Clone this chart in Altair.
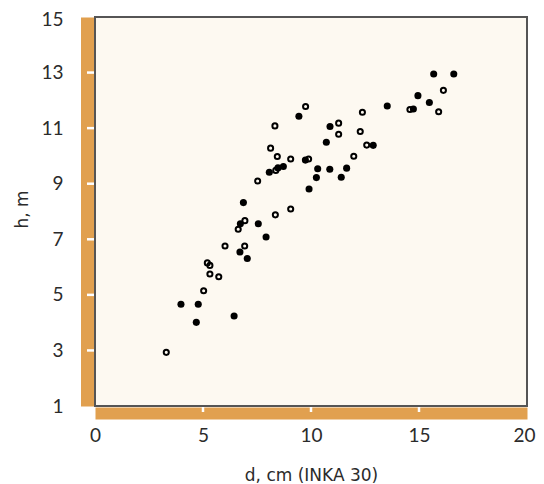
import altair as alt
import pandas as pd

# Filled circles
filled_d = [3.98, 4.78, 4.69, 6.44, 6.71, 7.05, 7.92, 6.73, 7.56, 6.87, 9.91, 10.25, 11.40,
            8.07, 8.47, 8.72, 10.31, 10.87, 11.65, 9.74, 10.71, 12.88, 10.88, 9.44, 13.53,
            14.74, 15.48, 14.95, 15.68, 16.61]
filled_h = [4.66, 4.66, 4.01, 4.24, 6.54, 6.31, 7.08, 7.56, 7.56, 8.32, 8.81, 9.22, 9.23,
            9.41, 9.57, 9.62, 9.54, 9.52, 9.56, 9.85, 10.49, 10.38, 11.06, 11.43, 11.80,
            11.69, 11.92, 12.17, 12.95, 12.95]
# Open circles
open_d = [3.30, 5.03, 5.32, 5.73, 5.20, 5.32, 6.02, 6.93, 6.63, 6.94, 8.35, 9.06, 7.53,
          8.37, 8.44, 9.06, 9.89, 11.98, 8.13, 12.58, 11.28, 12.28, 8.33, 11.28, 12.38,
          9.75, 14.58, 15.91, 16.13]
open_h = [2.93, 5.15, 5.75, 5.65, 6.15, 6.06, 6.76, 6.76, 7.36, 7.67, 7.88, 8.09, 9.10,
          9.48, 9.98, 9.89, 9.89, 9.99, 10.28, 10.39, 10.78, 10.88, 11.08, 11.18, 11.57,
          11.78, 11.67, 11.59, 12.36]

x_ticks = [0, 5, 10, 15, 20]
y_ticks = [1, 3, 5, 7, 9, 11, 13, 15]
x_inner = [5, 10, 15]
y_inner = [3, 5, 7, 9, 11, 13]

ORANGE = "#E1A04F"
CREAM = "#FDF9F1"
TEXT = "#2b2b2b"
LFONT = "Lato"
TFONT = "DejaVu Sans"
W, H = 432, 389

df_f = pd.DataFrame({"d": filled_d, "h": filled_h})
df_o = pd.DataFrame({"d": open_d, "h": open_h})
df_xt = pd.DataFrame({"d": x_inner})
df_yt = pd.DataFrame({"h": y_inner})

xscale = alt.Scale(domain=[0, 20], nice=False, zero=False)
yscale = alt.Scale(domain=[1, 15], nice=False, zero=False)

xaxis = alt.Axis(values=x_ticks, offset=7, domainColor=ORANGE, domainWidth=12,
                 ticks=False, tickSize=0, grid=False, labelPadding=13, labelFlush=False,
                 labelOffset={"condition": {"test": "datum.value == 20", "value": -3}, "value": 0},
                 labelFont=LFONT, labelFontSize=19, labelColor=TEXT,
                 title="d, cm (INKA 30)", titleFont=TFONT, titleFontSize=17,
                 titleFontWeight="normal", titleColor=TEXT, titleY=67,
                 titleBaseline="alphabetic")
yaxis = alt.Axis(values=y_ticks, offset=8, domainColor=ORANGE, domainWidth=13,
                 ticks=False, tickSize=0, grid=False, labelPadding=24,
                 labelOffset={"condition": {"test": "datum.value == 15", "value": 2}, "value": 0},
                 labelFont=LFONT, labelFontSize=19, labelColor=TEXT,
                 title="h, m", titleFont=TFONT, titleFontSize=17,
                 titleFontWeight="normal", titleColor=TEXT, titleX=-65, titleY=192,
                 titleAngle=-90, titleBaseline="middle", titleAlign="center")

opn = alt.Chart(df_o).mark_point(shape="circle", filled=False, size=26, strokeWidth=2,
                                 color="black", opacity=1).encode(
    x=alt.X("d:Q", scale=xscale, axis=xaxis),
    y=alt.Y("h:Q", scale=yscale, axis=yaxis),
)
fil = alt.Chart(df_f).mark_circle(size=50, color="black", opacity=1).encode(
    x=alt.X("d:Q", scale=xscale),
    y=alt.Y("h:Q", scale=yscale),
)
ytk = alt.Chart(df_yt).mark_rule(color="white", strokeWidth=2.5).encode(
    y=alt.Y("h:Q", scale=yscale),
    x=alt.value(-8), x2=alt.value(-1),
)
xtk = alt.Chart(df_xt).mark_rule(color="white", strokeWidth=2.5).encode(
    x=alt.X("d:Q", scale=xscale),
    y=alt.value(H + 1), y2=alt.value(H + 6),
)

chart = alt.layer(ytk, xtk, opn, fil).properties(
    width=W, height=H,
    autosize=alt.AutoSizeParams(type="none"),
    padding={"left": 87, "top": 9, "right": 9, "bottom": 78},
    background="white",
).configure_view(fill=CREAM, stroke="#555555", strokeWidth=2)

chart.save("out.html", embed_options={"renderer": "svg", "actions": False})
